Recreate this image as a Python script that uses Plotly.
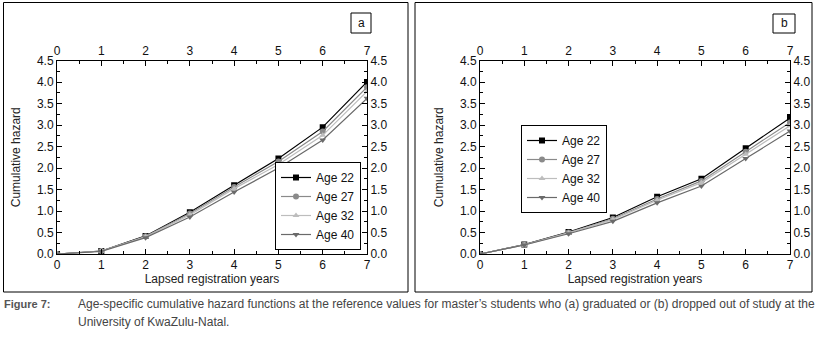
import plotly.graph_objects as go

years = [0, 1, 2, 3, 4, 5, 6, 7]
ages = ["Age 22", "Age 27", "Age 32", "Age 40"]

grad_22 = [0, 0.07, 0.42, 0.97, 1.60, 2.22, 2.95, 4.00]
grad_27 = [0, 0.07, 0.41, 0.94, 1.56, 2.15, 2.85, 3.88]
grad_32 = [0, 0.07, 0.40, 0.91, 1.52, 2.08, 2.76, 3.78]
grad_40 = [0, 0.06, 0.38, 0.86, 1.44, 2.00, 2.65, 3.62]

drop_22 = [0, 0.22, 0.51, 0.85, 1.33, 1.75, 2.46, 3.16]
drop_27 = [0, 0.22, 0.50, 0.82, 1.28, 1.70, 2.38, 3.06]
drop_32 = [0, 0.21, 0.49, 0.80, 1.25, 1.66, 2.32, 2.98]
drop_40 = [0, 0.21, 0.47, 0.76, 1.19, 1.58, 2.22, 2.86]

x_ticks = [0, 1, 2, 3, 4, 5, 6, 7]
y_ticks = [0.0, 0.5, 1.0, 1.5, 2.0, 2.5, 3.0, 3.5, 4.0, 4.5]
y_ticklabels = ["0.0", "0.5", "1.0", "1.5", "2.0", "2.5", "3.0", "3.5", "4.0", "4.5"]

colors = ["#000000", "#8a8a8a", "#bdbdbd", "#6a6a6a"]
symbols = ["square", "circle", "triangle-up", "triangle-down"]

W, H = 816, 341
FONT = "Liberation Sans, Arial, sans-serif"

fig = go.Figure()

panels = [
    dict(series=[grad_22, grad_27, grad_32, grad_40], xa="x", ya="y", xt="x3", yr="y3", legend="legend"),
    dict(series=[drop_22, drop_27, drop_32, drop_40], xa="x2", ya="y2", xt="x4", yr="y4", legend="legend2"),
]

for p in panels:
    for name, vals, c, s in zip(ages, p["series"], colors, symbols):
        fig.add_trace(go.Scatter(
            x=years, y=vals, name=name, mode="lines+markers",
            line=dict(color=c, width=1.2),
            marker=dict(symbol=s, size=6, color=c),
            xaxis=p["xa"], yaxis=p["ya"], legend=p["legend"],
        ))
    # empty traces to activate mirror axes (top / right)
    fig.add_trace(go.Scatter(x=[], y=[], xaxis=p["xt"], yaxis=p["yr"], showlegend=False, hoverinfo="skip"))

px = lambda v: v / W
py = lambda v: 1 - v / H

dom_a = [px(57), px(367)]
dom_b = [px(480), px(790)]
dom_y = [py(254), py(60.5)]

tickfont = dict(family=FONT, size=12, color="#111111")
common_x = dict(range=[0, 7], tickvals=x_ticks, ticks="inside", ticklen=5, tickwidth=1,
                tickcolor="#000", showline=True, linecolor="#000", linewidth=1,
                showgrid=False, zeroline=False, tickfont=tickfont, automargin=False,
                minor=dict(tickvals=[0.5, 1.5, 2.5, 3.5, 4.5, 5.5, 6.5], ticks="inside", ticklen=3,
                           tickcolor="#000", showgrid=False))
common_y = dict(range=[0, 4.5], tickvals=y_ticks, ticktext=y_ticklabels, ticks="inside", ticklen=5, tickwidth=1,
                tickcolor="#000", showline=True, linecolor="#000", linewidth=1,
                showgrid=False, zeroline=False, tickfont=tickfont, automargin=False,
                minor=dict(tickvals=[0.25, 0.75, 1.25, 1.75, 2.25, 2.75, 3.25, 3.75, 4.25], ticks="inside",
                           ticklen=3, tickcolor="#000", showgrid=False))

axtitle = dict(family=FONT, size=12, color="#222222")

fig.update_layout(
    template="none",
    width=W, height=H, margin=dict(l=0, r=0, t=0, b=0, pad=0), autosize=False,
    paper_bgcolor="white", plot_bgcolor="white",
    font=dict(family=FONT),
    xaxis=dict(common_x, domain=dom_a, anchor="y", side="bottom",
               title=dict(text="Lapsed registration years", font=axtitle, standoff=2)),
    yaxis=dict(common_y, domain=dom_y, anchor="x", side="left",
               title=dict(text="Cumulative hazard", font=axtitle, standoff=13)),
    xaxis3=dict(common_x, domain=dom_a, anchor="y3", side="top", overlaying="x"),
    yaxis3=dict(common_y, domain=dom_y, anchor="x3", side="right", overlaying="y"),
    xaxis2=dict(common_x, domain=dom_b, anchor="y2", side="bottom",
                title=dict(text="Lapsed registration years", font=axtitle, standoff=2)),
    yaxis2=dict(common_y, domain=dom_y, anchor="x2", side="left",
                title=dict(text="Cumulative hazard", font=axtitle, standoff=13)),
    xaxis4=dict(common_x, domain=dom_b, anchor="y4", side="top", overlaying="x2"),
    yaxis4=dict(common_y, domain=dom_y, anchor="x4", side="right", overlaying="y2"),
    legend=dict(x=px(275), y=py(162), xanchor="left", yanchor="top",
                bordercolor="#000", borderwidth=1, bgcolor="white",
                font=dict(family=FONT, size=12, color="#111"), tracegroupgap=0, itemwidth=30),
    legend2=dict(x=px(521), y=py(125), xanchor="left", yanchor="top",
                 bordercolor="#000", borderwidth=1, bgcolor="white",
                 font=dict(family=FONT, size=12, color="#111"), tracegroupgap=0, itemwidth=30),
    showlegend=True,
)

shapes = []
shapes.append(dict(type="rect", xref="paper", yref="paper", x0=px(3.5), x1=px(408), y0=py(292), y1=py(2.5),
                   line=dict(color="#000", width=1)))
shapes.append(dict(type="rect", xref="paper", yref="paper", x0=px(415), x1=px(812), y0=py(292), y1=py(2.5),
                   line=dict(color="#000", width=1)))
shapes.append(dict(type="rect", xref="paper", yref="paper", x0=px(351), x1=px(371), y0=py(33), y1=py(13),
                   line=dict(color="#000", width=1)))
shapes.append(dict(type="rect", xref="paper", yref="paper", x0=px(773), x1=px(795), y0=py(33), y1=py(14),
                   line=dict(color="#000", width=1)))
fig.update_layout(shapes=shapes)

annotations = [
    dict(text="a", x=px(361), y=py(23), xref="paper", yref="paper", xanchor="center", yanchor="middle",
         showarrow=False, font=dict(family=FONT, size=12, color="#111")),
    dict(text="b", x=px(784), y=py(23.5), xref="paper", yref="paper", xanchor="center", yanchor="middle",
         showarrow=False, font=dict(family=FONT, size=12, color="#111")),
    dict(text="<b>Figure 7:</b>", x=px(2), y=py(304), xref="paper", yref="paper", xanchor="left", yanchor="middle",
         showarrow=False, font=dict(family=FONT, size=11, color="#555")),
    dict(text="Age-specific cumulative hazard functions at the reference values for master\u2019s students who (a) graduated or (b) dropped out of study at the",
         x=px(76), y=py(304), xref="paper", yref="paper", xanchor="left", yanchor="middle",
         showarrow=False, font=dict(family=FONT, size=12, color="#444")),
    dict(text="University of KwaZulu-Natal.", x=px(76), y=py(322), xref="paper", yref="paper",
         xanchor="left", yanchor="middle",
         showarrow=False, font=dict(family=FONT, size=12, color="#444")),
]
fig.update_layout(annotations=annotations)

fig.write_html("out.html",
               config={"displayModeBar": False},
               post_script="document.body.style.margin='0';document.body.style.padding='0';"
                           "document.body.style.overflow='hidden';")
